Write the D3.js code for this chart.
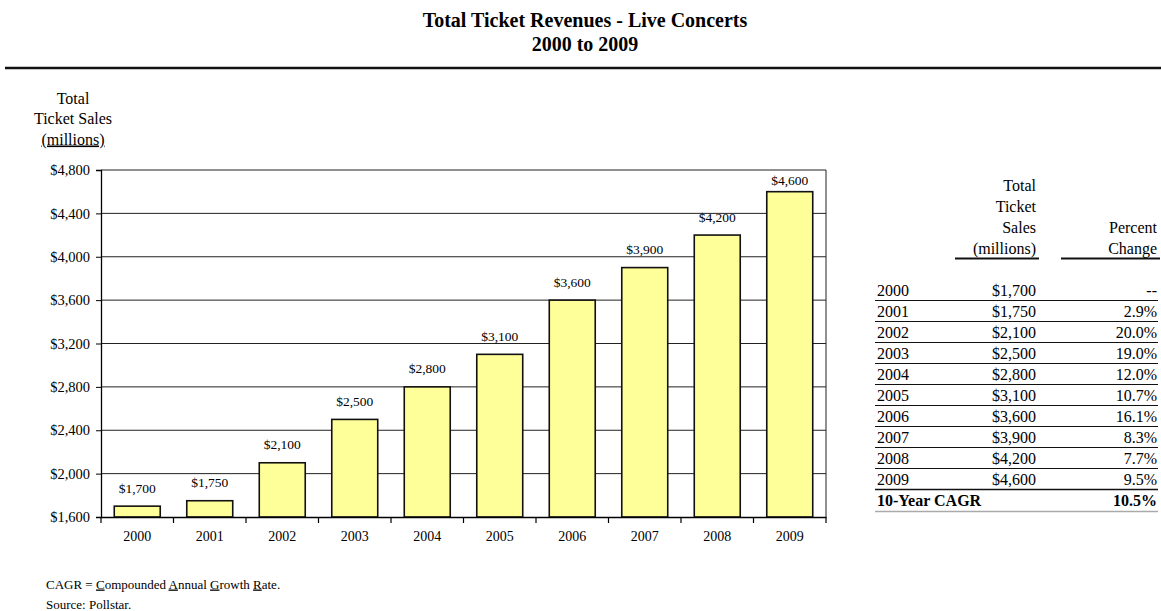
<!DOCTYPE html>
<html>
<head>
<meta charset="utf-8">
<script src="https://cdn.jsdelivr.net/npm/d3@7"></script>
<style>
  html, body { margin: 0; padding: 0; background: #fff; }
  svg { display: block; }
  text { font-family: "Liberation Serif", "Times New Roman", serif; fill: #000; }
</style>
</head>
<body>
<svg id="chart" width="1161" height="611"></svg>
<script>
const years = ["2000","2001","2002","2003","2004","2005","2006","2007","2008","2009"];
const sales = [1700, 1750, 2100, 2500, 2800, 3100, 3600, 3900, 4200, 4600];
const pctChange = [null, 2.9, 20.0, 19.0, 12.0, 10.7, 16.1, 8.3, 7.7, 9.5];
const cagr = 10.5;
const yTicks = [1600, 2000, 2400, 2800, 3200, 3600, 4000, 4400, 4800];
const titleLines = ["Total Ticket Revenues - Live Concerts", "2000 to 2009"];

const svg = d3.select("#chart");
const fmt = v => "$" + d3.format(",")(v);
const SERIF = "Liberation Serif, Times New Roman, serif";

// Title
svg.selectAll("text.title").data(titleLines).join("text")
  .attr("x", 585).attr("y", (d, i) => 27 + i * 24)
  .attr("text-anchor", "middle").attr("font-size", 20).attr("font-weight", "bold")
  .text(d => d);
svg.append("line").attr("x1", 5).attr("x2", 1161).attr("y1", 68).attr("y2", 68)
  .attr("stroke", "#111").attr("stroke-width", 2.5);

// Y label
const yl = ["Total", "Ticket Sales", "(millions)"];
svg.selectAll("text.ylab").data(yl).join("text")
  .attr("x", 73).attr("y", (d, i) => 103.5 + i * 20.5)
  .attr("text-anchor", "middle").attr("font-size", 16)
  .attr("text-decoration", (d, i) => i === 2 ? "underline" : null)
  .text(d => d);

// Scales
const x = d3.scaleBand().domain(years).range([101, 826]).paddingInner(0.366).paddingOuter(0.183);
const y = d3.scaleLinear().domain([1600, 4800]).range([517, 170]);

// Gridlines
svg.append("g").selectAll("line").data(yTicks.slice(1)).join("line")
  .attr("x1", 101).attr("x2", 826).attr("y1", d => y(d)).attr("y2", d => y(d))
  .attr("stroke", "#222").attr("stroke-width", 1);
// right border
svg.append("line").attr("x1", 826).attr("x2", 826).attr("y1", y(4800)).attr("y2", y(1600))
  .attr("stroke", "#222").attr("stroke-width", 1);

// Y axis
const yAxis = d3.axisLeft(y).tickValues(yTicks).tickFormat(fmt).tickSize(5).tickPadding(6);
const gy = svg.append("g").attr("transform", "translate(101,0)").call(yAxis);
gy.select(".domain").attr("stroke", "#000").attr("stroke-width", 1.3);
gy.selectAll(".tick line").attr("stroke", "#000");
gy.selectAll(".tick text").attr("font-size", 14.5).attr("font-family", SERIF).attr("fill", "#000");

// Bars
svg.append("g").selectAll("rect").data(years).join("rect")
  .attr("x", d => x(d)).attr("width", x.bandwidth())
  .attr("y", (d, i) => y(sales[i])).attr("height", (d, i) => y(1600) - y(sales[i]))
  .attr("fill", "#FFFF99").attr("stroke", "#111").attr("stroke-width", 1.6);

// X axis
const xAxis = d3.axisBottom(x).tickSize(0).tickPadding(14);
const gx = svg.append("g").attr("transform", "translate(0,517)").call(xAxis);
gx.select(".domain").attr("stroke", "#000").attr("stroke-width", 1.6);
gx.selectAll(".tick text").attr("font-size", 14).attr("font-family", SERIF).attr("fill", "#000");
// category boundary ticks
const bounds = years.map(d => x(d) - x.step() * x.paddingInner() / 2).concat([826]);
bounds[0] = 101;
svg.append("g").selectAll("line").data(bounds).join("line")
  .attr("x1", d => d).attr("x2", d => d).attr("y1", 517).attr("y2", 523)
  .attr("stroke", "#000").attr("stroke-width", 1.2);

// Value labels (kept inside the plot frame)
svg.append("g").selectAll("text").data(years).join("text")
  .attr("x", d => x(d) + x.bandwidth() / 2)
  .attr("y", (d, i) => Math.max(y(sales[i]) - 13.5, y(4800) + 15))
  .attr("text-anchor", "middle").attr("font-size", 13.5)
  .text((d, i) => fmt(sales[i]));

// Table
const tx0 = 877, tx1 = 1036, tx2 = 1157;
const FS = 16;
const hdr1 = ["Total", "Ticket", "Sales", "(millions)"];
svg.selectAll("text.h1").data(hdr1).join("text")
  .attr("x", tx1).attr("y", (d, i) => 190.5 + i * 21)
  .attr("text-anchor", "end").attr("font-size", FS).text(d => d);
const hdr2 = ["Percent", "Change"];
svg.selectAll("text.h2").data(hdr2).join("text")
  .attr("x", tx2).attr("y", (d, i) => 232.5 + i * 21)
  .attr("text-anchor", "end").attr("font-size", FS).text(d => d);
svg.append("line").attr("x1", 955).attr("x2", 1039).attr("y1", 258.5).attr("y2", 258.5)
  .attr("stroke", "#111").attr("stroke-width", 2);
svg.append("line").attr("x1", 1061).attr("x2", 1160).attr("y1", 258.5).attr("y2", 258.5)
  .attr("stroke", "#111").attr("stroke-width", 2);

const rowY = i => 295.5 + i * 21;
const rows = svg.append("g");
rows.selectAll("text.yr").data(years).join("text")
  .attr("x", tx0).attr("y", (d, i) => rowY(i)).attr("font-size", FS).text(d => d);
rows.selectAll("text.sv").data(sales).join("text")
  .attr("x", tx1).attr("y", (d, i) => rowY(i)).attr("text-anchor", "end").attr("font-size", FS)
  .text(d => fmt(d));
rows.selectAll("text.pc").data(pctChange).join("text")
  .attr("x", tx2).attr("y", (d, i) => rowY(i)).attr("text-anchor", "end").attr("font-size", FS)
  .text(d => d === null ? "--" : d.toFixed(1) + "%");
rows.selectAll("line.rl").data(years).join("line")
  .attr("x1", 875).attr("x2", 1158)
  .attr("y1", (d, i) => rowY(i) + 5).attr("y2", (d, i) => rowY(i) + 5)
  .attr("stroke", "#111").attr("stroke-width", (d, i) => i === 9 ? 1.4 : 1);
rows.append("text").attr("x", tx0).attr("y", rowY(10)).attr("font-size", FS).attr("font-weight", "bold")
  .text("10-Year CAGR");
rows.append("text").attr("x", tx2).attr("y", rowY(10)).attr("text-anchor", "end").attr("font-size", FS)
  .attr("font-weight", "bold").text(cagr.toFixed(1) + "%");
rows.append("line").attr("x1", 875).attr("x2", 1158).attr("y1", rowY(10) + 6).attr("y2", rowY(10) + 6)
  .attr("stroke", "#aaa").attr("stroke-width", 1.6);

// Footnotes
const t1 = svg.append("text").attr("x", 46).attr("y", 588.5).attr("font-size", 13);
t1.append("tspan").text("CAGR = ");
t1.append("tspan").attr("text-decoration", "underline").text("C");
t1.append("tspan").text("ompounded ");
t1.append("tspan").attr("text-decoration", "underline").text("A");
t1.append("tspan").text("nnual ");
t1.append("tspan").attr("text-decoration", "underline").text("G");
t1.append("tspan").text("rowth ");
t1.append("tspan").attr("text-decoration", "underline").text("R");
t1.append("tspan").text("ate.");
svg.append("text").attr("x", 46).attr("y", 608.5).attr("font-size", 13).text("Source: Pollstar.");
</script>
</body>
</html>
